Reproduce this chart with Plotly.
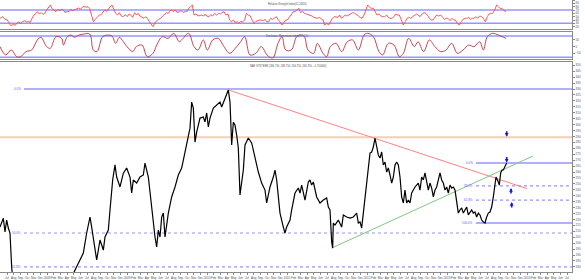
import plotly.graph_objects as go

# ---------------- data (bar index = daily bar number) ----------------
price_bar = [0,10,15,20,25,30,35,38,45,55,65,75,85,95,110,125,140,155,170,185,200,215,
 225,240,250,260,270,275,285,290,300,310,315,325,330,338,345,350,360,370,380,390,395,400,410,420,430,435,445,455,465,470,475,480,485,490,495,505,515,525,535,545,555,565,570,575,580,585,590,600,610,615,620,625,630,640,650,660,665,675,680,685,690,692,695,700,705,710,715,720,725,730,735,745,755,765,775,785,795,800,810,820,825,830,840,850,855,860,870,
 875,885,895,900,905,915,925,930,935,940,950,960,970,980,985,990,995,998,1000,1005,1015,1025,1030,1040,1050,1060,1070,1075,1080,1085,1090,1095,1100,1105,1110,1115,1120,1125,1130,1135,1140,1145,1150,1155,1160,1165,1170,1175,1180,1185,1190,1195,1200,1205,1210,1215,1220,1225,1230,1235,1240,1245,1255,1260,1265,1270,1275,1280,1285,1290,1295,1300,1305,1310,1315,1320,1325,1330,1335,1340,1345,1350,1355,1360,1365,1370,1375,1380,1385,1390,1395,1400,1405,1410,1415,1420,1425,1430,1435,1440,1445,1450,1455,1460,1465,1470,1475,1480,1485,1488,1495,1498,1502,1506,1510,1515,1520]
price_close = [213.6,221,209.4,219.5,212.8,208.6,180,165,140,115,100,90,88,98,112,122,130,142,150,155,162,171.5,
 177.4,185.8,191.7,208.6,222,213.6,194.2,185.8,202.7,194.2,205.2,211.1,228,253.3,266,255.8,247.4,259,263.4,255.8,242.3,253.3,250.7,255.8,257.5,267.6,255.8,228,205.2,196.8,211,205.2,222,225.4,205.2,225.4,239,247.4,257.5,263.4,277,288.7,297,319,314,285.3,293.7,305.5,306.4,302.2,309.8,298,305.5,314,316.5,319,314.8,322.4,326.6,329.2,319,302.2,282.8,302,299.6,291.2,280.3,240.6,250.7,261.7,282.8,288.7,284.5,271.8,260,250.7,244.8,233.9,247.4,255.8,261.7,253.3,225.4,213.6,208.6,213.6,219.5,
 228,242.3,246.5,242.3,249,236.4,251.6,253.3,249,251.6,239,233.9,236.4,238.1,230.5,228,201,195.9,217,215.3,219.5,213.6,223.8,222.1,221.2,222.1,225.4,217,217.9,212.8,225.4,238.1,250.7,260,276,276.9,281.1,288.7,282.8,274.4,271.8,276.9,265.9,268.4,260,263.4,257.5,250.7,255.8,265.9,268.4,265.9,255.8,239,233.9,244.8,233.9,236.4,233.9,242.3,244.8,247.4,250.7,244.8,255.8,253.3,259.2,253.3,244.8,250.7,246.5,239,244.8,247.4,253.3,259.2,253.3,250.7,244.8,247.4,242.3,249,246.5,247.4,244.8,233.9,225.4,228,229.7,225.4,228,230.5,223.8,226.3,228,225.4,226.3,222.1,225.4,223.8,219.5,217.9,217,222.1,225.4,226.3,230.5,239,247.4,255.8,251.6,249,259.2,261.7,261.7,264.2,267.6]

rsi_bar = [0,8,15,22,28,34,40,46,50,56,62,67,74,80,86,90,96,102,108,112,118,124,130,134,140,146,151,156,162,168,174,180,186,190,196,202,207,213,218,224,230,236,242,248,252,258,264,269,274,280,286,292,298,302,308,314,320,326,332,336,341,347,353,358,364,370,376,382,387,392,398,404,409,414,420,426,432,437,442,448,454,459,464,470,476,482,488,494,500,505,510,515,520,526,532,538,544,550,556,560,566,572,577,582,588,594,600,605,611,616,622,627,632,638,644,650,656,661,666,672,678,684,689,694,700,706,712,717,722,728,734,739,745,751,756,762,768,773,779,784,790,795,800,806,812,818,824,829,835,840,846,852,857,862,868,874,880,885,890,896,902,908,913,918,924,930,936,941,947,952,958,964,969,974,980,986,991,997,1002,1008,1014,1019,1025,1030,1036,1041,1047,1052,1058,1064,1069,1075,1080,1086,1092,1098,1103,1109,1114,1120,1126,1131,1137,1142,1148,1154,1160,1165,1170,1176,1182,1187,1192,1198,1204,1210,1216,1221,1226,1232,1238,1244,1250,1254,1260,1266,1272,1277,1282,1288,1294,1299,1305,1310,1316,1322,1328,1333,1339,1344,1350,1356,1361,1366,1372,1378,1384,1389,1395,1400,1406,1411,1417,1422,1428,1433,1439,1445,1450,1456,1462,1467,1472,1478,1484,1490,1495,1500,1506,1512,1518]
rsi_val = [45,50,42,40,30,22,28,24,30,34,30,35,38,34,36,32,45,55,60,65,58,62,56,60,70,78,85,74,70,65,72,68,73,70,62,66,65,72,68,70,74,76,73,80,82,78,80,75,60,35,42,50,55,55,62,70,66,75,82,85,72,60,55,62,52,50,56,50,58,55,48,62,55,60,52,48,45,50,45,35,25,20,30,38,42,45,52,58,62,60,68,70,65,70,62,65,68,62,66,65,75,80,85,55,58,52,55,55,52,58,50,50,56,52,60,55,60,58,62,65,55,58,40,35,40,32,35,30,36,34,40,60,55,52,40,30,36,38,40,40,38,42,35,35,45,42,48,50,40,35,25,32,40,40,48,55,65,65,70,75,62,66,60,58,55,55,52,48,45,45,48,42,40,25,30,25,35,45,50,50,48,55,45,50,55,52,55,58,62,60,55,52,48,45,55,75,85,78,75,75,62,55,58,52,50,50,55,48,45,45,50,58,55,55,40,25,35,45,48,45,50,55,58,55,50,58,62,60,55,45,40,40,50,55,52,55,48,42,45,45,38,45,40,40,30,25,35,42,45,45,48,42,45,45,50,45,52,50,45,35,50,58,60,60,70,85,80,75,75,68,65]

smi_bar = [0,17,34,50,62,78,95,112,123,140,151,168,185,190,202,213,224,235,252,269,280,291,308,325,336,347,358,370,381,398,409,426,442,459,470,487,504,521,538,549,566,582,594,610,622,638,655,672,689,706,722,734,750,767,784,801,818,834,846,857,874,890,902,913,924,941,952,969,980,991,1008,1025,1042,1058,1075,1092,1103,1120,1137,1148,1165,1182,1198,1210,1226,1243,1254,1271,1288,1305,1322,1338,1355,1372,1389,1406,1422,1439,1450,1462,1478,1495,1506,1518]
smi_val = [0,-62,-25,-75,-75,-37,-25,50,70,0,-12,75,62,12,75,87,70,85,95,95,-25,-37,75,87,80,25,70,37,0,-37,0,12,-75,-50,12,75,62,100,37,62,100,0,-25,50,-25,50,62,0,-50,-12,37,75,-62,-50,0,-62,-87,25,75,-25,-25,75,87,75,-25,-50,25,-50,-75,0,25,-37,37,50,-25,87,100,75,-37,-62,25,12,-75,-50,62,0,37,-37,50,0,-37,-25,25,-50,-25,12,0,37,-25,75,100,87,75,62]

trend_red_bar = [685, 1581]
trend_red_val = [329.2, 246.0]
trend_green_bar = [995, 1599]
trend_green_val = [195.9, 273.5]

big_fib_labels = ["0.0%", "50.0%", "61.8%"]
big_fib_levels = [330.0, 208.6, 180.0]
big_fib_dash = ["solid", "dot", "dot"]
small_fib_labels = ["0.0%", "38.2%", "61.8%", "100.0%"]
small_fib_levels = [267.6, 248.3, 236.3, 217.0]
small_fib_dash = ["solid", "dot", "dot", "solid"]
resistance_level = 289.3

signal_bar = [1520, 1520, 1533, 1535]
signal_val = [289.8, 268.0, 246.5, 234.7]
signal_dir = ["down", "down", "up", "up"]

month_names = ["Jan","Feb","Mar","Apr","May","Jun","Jul","Aug","Sep","Oct","Nov","Dec"]
first_year = 2008
first_jan_bar = 141
bars_per_month = 20
n_bars_axis = 1716

# ---------------- figure ----------------
fig = go.Figure()
BLUE = "rgb(150,150,255)"
ORANGE = "rgb(250,205,180)"
TXT = "#505050"
FONT = "Liberation Sans"

fig.add_trace(go.Scatter(x=rsi_bar, y=rsi_val, mode="lines", xaxis="x3", yaxis="y3",
                         line=dict(color="rgb(255,70,70)", width=0.9), hoverinfo="skip"))
fig.add_trace(go.Scatter(x=smi_bar, y=smi_val, mode="lines", xaxis="x2", yaxis="y2",
                         line=dict(color="rgb(190,50,60)", width=0.9, shape="spline"), hoverinfo="skip"))
fig.add_trace(go.Scatter(x=trend_red_bar, y=trend_red_val, mode="lines",
                         line=dict(color="rgb(255,130,130)", width=1), hoverinfo="skip"))
fig.add_trace(go.Scatter(x=trend_green_bar, y=trend_green_val, mode="lines",
                         line=dict(color="rgb(130,200,130)", width=1), hoverinfo="skip"))
fig.add_trace(go.Scatter(x=price_bar, y=price_close, mode="lines",
                         line=dict(color="black", width=1.2), hoverinfo="skip"))

shapes = []
# RSI / SMI guide lines
for lv in [70, 30]:
    shapes.append(dict(type="line", xref="x3", yref="y3", x0=0, x1=n_bars_axis, y0=lv, y1=lv,
                       line=dict(color=BLUE, width=1.5), layer="below"))
for lv in [80, -80]:
    shapes.append(dict(type="line", xref="x2", yref="y2", x0=0, x1=n_bars_axis, y0=lv, y1=lv,
                       line=dict(color=BLUE, width=1.5), layer="below"))
shapes.append(dict(type="line", xref="x", yref="y", x0=0, x1=n_bars_axis, y0=resistance_level,
                   y1=resistance_level, line=dict(color=ORANGE, width=2), layer="below"))
annotations = []
for lab, lv, ds in zip(big_fib_labels, big_fib_levels, big_fib_dash):
    shapes.append(dict(type="line", xref="x", yref="y", x0=72, x1=n_bars_axis, y0=lv, y1=lv,
                       line=dict(color=BLUE, width=(1.5 if ds == "solid" else 1.1), dash=ds), layer="below"))
    annotations.append(dict(x=68, y=lv, xref="x", yref="y", text=lab, showarrow=False,
                            xanchor="right", yanchor="middle", font=dict(size=3, color="rgb(90,90,255)", family=FONT)))
for lab, lv, ds in zip(small_fib_labels, small_fib_levels, small_fib_dash):
    shapes.append(dict(type="line", xref="x", yref="y", x0=1428, x1=n_bars_axis, y0=lv, y1=lv,
                       line=dict(color=BLUE, width=(1.5 if ds == "solid" else 1.1), dash=ds), layer="below"))
    annotations.append(dict(x=1424, y=lv, xref="x", yref="y", text=lab, showarrow=False,
                            xanchor="right", yanchor="middle", font=dict(size=3, color="rgb(90,90,255)", family=FONT)))
for b, v, d in zip(signal_bar, signal_val, signal_dir):
    annotations.append(dict(x=b, y=v, xref="x", yref="y", text="", showarrow=True,
                            ax=0, ay=(-7 if d == "down" else 7), arrowhead=2, arrowsize=0.45,
                            arrowwidth=1.6, arrowcolor="rgb(20,20,230)"))

# panel titles
annotations.append(dict(x=0.502, y=1.0, xref="paper", yref="paper", text="Relative Strength Index(11,20/20)",
                        showarrow=False, yanchor="top", font=dict(size=2.6, color=TXT, family=FONT)))
annotations.append(dict(x=0.502, y=0.8824, xref="paper", yref="paper", text="Stochastic Momentum Index(7,7,5,5)",
                        showarrow=False, yanchor="top", font=dict(size=2.6, color=TXT, family=FONT)))
annotations.append(dict(x=0.503, y=0.7721, xref="paper", yref="paper",
                        text="BAE SYSTEMS (266.750, 268.750, 264.750, 266.750, +1.750000)",
                        showarrow=False, yanchor="top", font=dict(size=2.6, color=TXT, family=FONT)))

# x ticks (monthly, January shows the year)
tickvals, ticktext = [], []
for k in range(-6, 79):
    tickvals.append(first_jan_bar + bars_per_month * k)
    m = k % 12
    ticktext.append(str(first_year + k // 12) if m == 0 else month_names[m])

axis_common = dict(showline=True, linecolor="#8a8a8a", linewidth=1, mirror=True, showgrid=False, zeroline=False)
yfont = dict(size=3, color=TXT, family=FONT)

fig.update_layout(
    width=585, height=280,
    margin=dict(l=0, r=13, t=0, b=8),
    paper_bgcolor="white", plot_bgcolor="white",
    showlegend=False,
    shapes=shapes, annotations=annotations,
    xaxis=dict(domain=[0, 1], anchor="y", range=[0, n_bars_axis], tickvals=tickvals, ticktext=ticktext,
               ticks="outside", ticklen=2, tickcolor="#8a8a8a", tickfont=dict(size=3, color=TXT, family=FONT),
               tickangle=0, **axis_common),
    yaxis=dict(domain=[0, 0.7721], side="right", range=[175.7, 352.8], dtick=5, tick0=0,
               ticks="outside", ticklen=2, tickcolor="#8a8a8a", tickfont=yfont, **axis_common),
    xaxis2=dict(domain=[0, 1], anchor="y2", matches="x", showticklabels=False, **axis_common),
    yaxis2=dict(domain=[0.7849, 0.8824], side="right", range=[-88.75, 110], tickvals=[50, 0, -50],
                ticks="outside", ticklen=2, tickcolor="#8a8a8a", tickfont=yfont, **axis_common),
    xaxis3=dict(domain=[0, 1], anchor="y3", matches="x", showticklabels=False, **axis_common),
    yaxis3=dict(domain=[0.8934, 1], side="right", range=[13, 100], dtick=10, tick0=0,
                ticks="outside", ticklen=2, tickcolor="#8a8a8a", tickfont=yfont, **axis_common),
)

fig.write_html("out.html")
